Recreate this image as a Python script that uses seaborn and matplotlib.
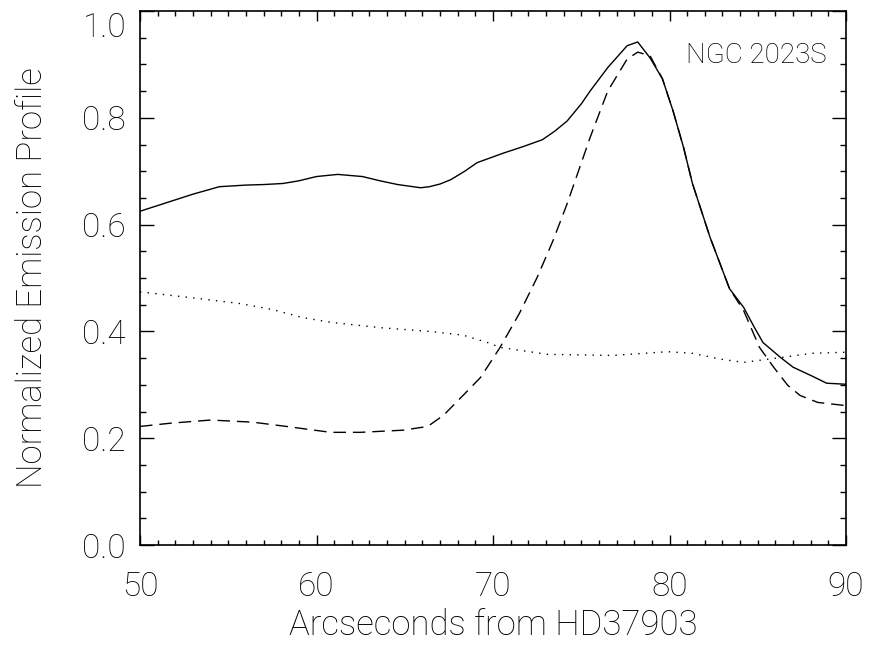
import numpy as np
import pandas as pd
import matplotlib
matplotlib.use("Agg")
import matplotlib.pyplot as plt
import matplotlib.transforms as mtransforms
import seaborn as sns

# Total emission (solid)
total_x = [50.0, 51.5, 53.0, 54.5, 56.0, 57.0, 58.1, 59.0, 60.0, 61.2, 62.6, 63.6, 64.6, 65.9, 66.4,
           67.0, 67.6, 68.4, 69.1, 70.6, 71.7, 72.8, 73.5, 74.2, 75.0, 75.5, 76.5, 77.6, 78.2, 78.9, 79.6,
           80.2, 80.8, 81.3, 82.3, 83.4, 84.2, 84.8, 85.3, 86.3, 87.0, 88.1, 88.9, 90.0]
total_y = [0.625, 0.641, 0.657, 0.671, 0.674, 0.675, 0.677, 0.682, 0.690, 0.694, 0.690, 0.682, 0.675, 0.669, 0.671,
           0.676, 0.684, 0.700, 0.716, 0.734, 0.746, 0.759, 0.775, 0.794, 0.826, 0.850, 0.894, 0.935, 0.942, 0.912, 0.873,
           0.813, 0.744, 0.677, 0.576, 0.480, 0.445, 0.408, 0.379, 0.351, 0.333, 0.316, 0.303, 0.301]

# Dashed component
dash_x = [50.0, 51.7, 54.0, 56.4, 58.3, 60.8, 62.5, 64.9, 66.3, 67.2, 68.3, 69.3,
          70.4, 71.5, 72.5, 73.4, 74.2, 75.5, 76.5, 77.6, 78.2, 78.9, 79.6, 80.2, 80.8,
          81.3, 82.3, 83.4, 84.2, 85.1, 85.9, 86.7, 87.4, 88.4, 90.0]
dash_y = [0.222, 0.228, 0.234, 0.230, 0.222, 0.211, 0.211, 0.215, 0.222, 0.243, 0.280, 0.314,
          0.370, 0.434, 0.501, 0.570, 0.639, 0.763, 0.850, 0.910, 0.923, 0.916, 0.873,
          0.813, 0.744, 0.677, 0.576, 0.480, 0.439, 0.370, 0.333, 0.299, 0.280, 0.267, 0.261]

# Dotted component
dot_x = [50.0, 53.2, 55.7, 57.5, 59.2, 60.8, 63.6, 66.4, 68.3, 69.7, 70.4, 73.1,
         76.8, 79.9, 81.3, 82.9, 84.2, 86.3, 88.1, 90.0]
dot_y = [0.474, 0.462, 0.452, 0.441, 0.426, 0.417, 0.407, 0.400, 0.393, 0.379, 0.370, 0.357,
         0.355, 0.362, 0.359, 0.348, 0.342, 0.351, 0.359, 0.361]

x_ticks = [50, 60, 70, 80, 90]
y_ticks = [0.0, 0.2, 0.4, 0.6, 0.8, 1.0]
label_text = "NGC 2023S"

sns.set_style("ticks")
plt.rcParams['font.family'] = ['Roboto', 'DejaVu Sans']
plt.rcParams['font.weight'] = 'light'
plt.rcParams['axes.labelweight'] = 'light'
plt.rcParams['text.color'] = 'black'
plt.rcParams['axes.labelcolor'] = 'black'
plt.rcParams['xtick.color'] = 'black'
plt.rcParams['ytick.color'] = 'black'

fig = plt.figure(figsize=(8.72, 6.5), dpi=100)
ax = fig.add_axes([140/872, (650-545)/650, 706/872, 534/650])

df_total = pd.DataFrame({"x": total_x, "y": total_y})
df_dash = pd.DataFrame({"x": dash_x, "y": dash_y})
df_dot = pd.DataFrame({"x": dot_x, "y": dot_y})

lw = 1.0
sns.lineplot(data=df_total, x="x", y="y", ax=ax, color="black", lw=lw, sort=False)
sns.lineplot(data=df_dash, x="x", y="y", ax=ax, color="black", lw=lw, sort=False)
ax.lines[-1].set_dashes((9, 5))
sns.lineplot(data=df_dot, x="x", y="y", ax=ax, color="black", lw=lw, sort=False)
ax.lines[-1].set_dashes((1, 4.5))

ax.set_xlim(50, 90)
ax.set_ylim(0, 1.0)
ax.set_xticks(x_ticks)
ax.set_xticklabels([str(v) for v in x_ticks])
ax.set_yticks(y_ticks)
ax.set_yticklabels([f"{v:.1f}" for v in y_ticks])
ax.set_xticks(np.arange(50, 91, 1), minor=True)
ax.set_yticks(np.arange(0, 1.001, 0.05), minor=True)

for s in ax.spines.values():
    s.set_visible(True)
    s.set_linewidth(1.2)
    s.set_color("black")

ax.tick_params(axis="both", which="both", direction="in", top=True, right=True,
               color="black", width=1.0, labelcolor="black")
ax.tick_params(axis="x", which="major", length=7.5, pad=19, labelsize=24)
ax.tick_params(axis="x", which="minor", length=3.5)
ax.tick_params(axis="y", which="major", length=10, pad=10, labelsize=24)
ax.tick_params(axis="y", which="minor", length=4.5)

# top label sits a little below its tick, as in the original
top_lbl = ax.get_yticklabels()[-1]
top_lbl.set_transform(top_lbl.get_transform() +
                      mtransforms.ScaledTranslation(0, -10/72, fig.dpi_scale_trans))

ax.set_xlabel("Arcseconds from HD37903", fontsize=25, labelpad=4, color="black",
              fontweight="light")
ax.set_ylabel("Normalized Emission Profile", fontsize=25, labelpad=24, color="black",
              fontweight="light")

ax.text(0.972, 0.916, label_text, transform=ax.transAxes, ha="right", va="center",
        fontsize=20, color="black", fontweight="light")

fig.savefig("out.png", dpi=100)
